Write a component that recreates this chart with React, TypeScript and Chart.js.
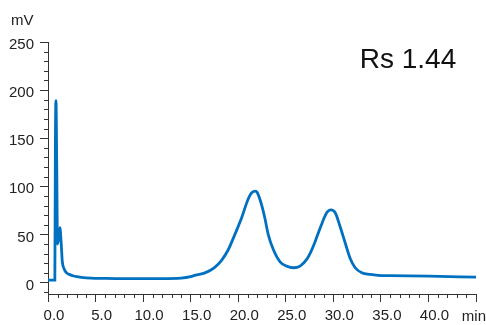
import React, { useEffect, useRef } from "react";
import { Chart, registerables } from "chart.js";

Chart.register(...registerables);

// Retention time (min) and detector signal (mV)
const times: number[] = [
  0, 0.72, 0.78, 0.84, 0.92, 1.0, 1.1, 1.25, 1.38, 1.5, 1.7, 1.9, 2.2, 2.6, 3.0, 3.5, 4.5, 6, 8, 10, 12, 14, 15,
  15.5, 16.5, 17.5, 18.25, 18.95, 19.65, 20.35, 20.9, 21.15, 21.4, 21.8, 22.0, 22.45, 22.8, 23.15, 23.7, 24.4, 25.1,
  25.8, 26.5, 27.2, 27.6, 28.05, 28.4, 28.75, 29.05, 29.3, 29.55, 29.75, 30.2, 30.7, 31.25, 31.75, 32.3, 33.0, 33.85,
  34.7, 36, 40, 45,
];
const signal: number[] = [
  2.5, 2.5, 150, 189, 120, 40, 45, 57, 42, 22, 14, 10.5, 8.5, 7, 6, 5.3, 4.5, 4.2, 4, 4, 4, 4.5, 6,
  7.6, 10, 15.5, 23, 34, 50, 67, 83, 89, 93, 95, 93.5, 81, 67, 50, 34, 21.5, 17,
  15.3, 17, 24, 31, 41.5, 51, 60, 67.5, 72.5, 75, 75.5, 72.5, 58.5, 41, 25.5, 15.3, 10, 8.3,
  7.3, 7, 6.5, 5.5,
];

const xMin = 0;
const xMax = 45;
const xStep = 5;
const xMinorStep = 1;
const yMin = -12;
const yMax = 250;
const yStep = 50;
const yMinorStep = 10;

const yUnit = "mV";
const xUnit = "min";
const annotation = "Rs 1.44";

const LINE = "#0070c0";
const AXIS = "#333333";
const TEXT = "#222222";
const FONT = "'Liberation Sans', Arial, sans-serif";

export default function App() {
  const ref = useRef<HTMLCanvasElement | null>(null);

  useEffect(() => {
    if (!ref.current) return;
    const points = times.map((t, i) => ({ x: t, y: signal[i] }));

    const extras = {
      id: "extras",
      afterDraw(chart: any) {
        const { ctx, chartArea, scales } = chart;
        const xs = scales.x;
        const ys = scales.y;
        ctx.save();
        ctx.strokeStyle = AXIS;
        ctx.lineWidth = 1;
        ctx.beginPath();
        for (let v = Math.ceil(yMin / yMinorStep) * yMinorStep; v <= yMax; v += yMinorStep) {
          if (v % yStep === 0 && v >= 0) continue;
          const py = Math.round(ys.getPixelForValue(v)) + 0.5;
          ctx.moveTo(chartArea.left - 4, py);
          ctx.lineTo(chartArea.left, py);
        }
        for (let v = xMin; v <= xMax; v += xMinorStep) {
          if (v % xStep === 0) continue;
          const px = Math.round(xs.getPixelForValue(v)) + 0.5;
          ctx.moveTo(px, chartArea.bottom);
          ctx.lineTo(px, chartArea.bottom + 4);
        }
        ctx.stroke();

        ctx.fillStyle = TEXT;
        ctx.font = `15px ${FONT}`;
        ctx.textBaseline = "alphabetic";
        ctx.textAlign = "left";
        ctx.fillText(yUnit, 11, 25);
        ctx.textAlign = "right";
        ctx.fillText(xUnit, 486, 321);
        ctx.fillStyle = "#111111";
        ctx.font = `28px ${FONT}`;
        ctx.textAlign = "center";
        ctx.fillText(annotation, 408, 68);
        ctx.restore();
      },
    };

    const chart = new Chart(ref.current, {
      type: "line",
      data: {
        datasets: [
          {
            data: points,
            borderColor: LINE,
            borderWidth: 2.8,
            pointRadius: 0,
            cubicInterpolationMode: "monotone",
            fill: false,
          },
        ],
      },
      options: {
        animation: false,
        responsive: false,
        maintainAspectRatio: false,
        layout: { padding: { top: 42, right: 10, left: 0, bottom: 0 } },
        plugins: { legend: { display: false }, tooltip: { enabled: false } },
        scales: {
          x: {
            type: "linear",
            min: xMin,
            max: xMax,
            afterFit: (s: any) => {
              s.height = 31;
            },
            border: { color: AXIS, width: 1 },
            grid: { drawOnChartArea: false, tickLength: 8, color: AXIS },
            ticks: {
              stepSize: xStep,
              color: TEXT,
              font: { family: FONT, size: 15 },
              padding: 5,
              labelOffset: 6,
              maxRotation: 0,
              autoSkip: false,
              callback: (v: any) => (Number(v) >= xMax ? "" : Number(v).toFixed(1)),
            },
          },
          y: {
            type: "linear",
            min: yMin,
            max: yMax,
            afterFit: (s: any) => {
              s.width = 48;
            },
            afterBuildTicks: (s: any) => {
              const ticks: any[] = [];
              for (let v = 0; v <= yMax; v += yStep) ticks.push({ value: v });
              s.ticks = ticks;
            },
            border: { color: AXIS, width: 1 },
            grid: { drawOnChartArea: false, tickLength: 8, color: AXIS },
            ticks: {
              stepSize: yStep,
              color: TEXT,
              font: { family: FONT, size: 15 },
              padding: 6,
              labelOffset: 3,
              callback: (v: any) => String(v),
            },
          },
        },
      },
      plugins: [extras],
    });
    return () => chart.destroy();
  }, []);

  return (
    <div style={{ position: "fixed", left: 0, top: 0, width: 486, height: 325, background: "#fff" }}>
      <canvas ref={ref} width={486} height={325} style={{ display: "block" }} />
    </div>
  );
}
